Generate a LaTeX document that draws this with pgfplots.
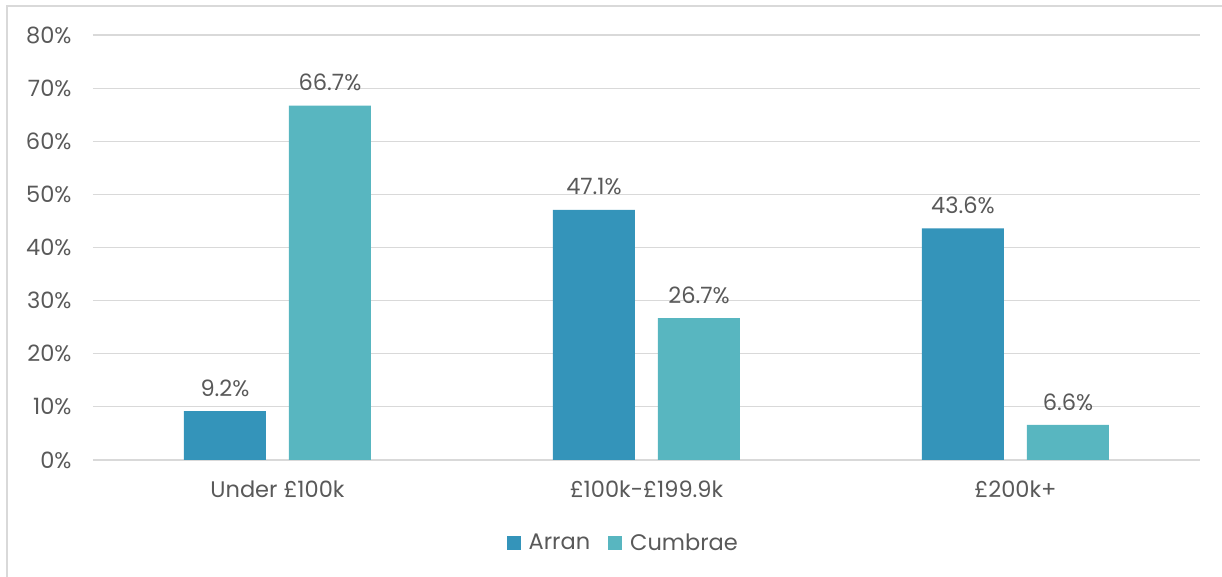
\documentclass[border=0pt]{standalone}
\usepackage{pgfplots}
\pgfplotsset{compat=1.18}
\usepackage{fontspec}
\setmainfont{Poppins}
\definecolor{arran}{HTML}{3494BA}
\definecolor{cumbrae}{HTML}{58B6C0}
\definecolor{txt}{HTML}{595959}
\definecolor{gridc}{HTML}{D9D9D9}
\begin{document}
\begin{tikzpicture}[x=1pt,y=1pt]
\path[use as bounding box] (-93,-117) rectangle (1129,460);
\draw[gridc, line width=1.5pt] (-86,-117) -- (-86,454) -- (1129,454);
\begin{axis}[
  at={(0,0)}, anchor=south west,
  scale only axis, width=1107pt, height=425pt,
  xmin=-0.5, xmax=2.5, ymin=0, ymax=80,
  ytick={0,10,...,80},
  /pgf/number format/assume math mode=true,
  yticklabel={\pgfmathprintnumber{\tick}\%},
  xtick={0,1,2},
  xticklabels={Under £100k, £100k-£199.9k, £200k+},
  axis line style={draw=none},
  major tick length=0pt,
  ymajorgrids, grid style={gridc, line width=1.2pt},
  ticklabel style={font=\fontsize{22.5}{26}\selectfont, text=txt},
  yticklabel style={xshift=-18pt},
  xticklabel style={yshift=-17pt},
  ybar=23pt, bar width=82pt,
  nodes near coords={\pgfmathprintnumber[fixed,precision=1,fixed zerofill]{\pgfplotspointmeta}\%},
  nodes near coords style={font=\fontsize{22.5}{26}\selectfont, text=txt, yshift=11pt},
  legend style={at={(0.479,-0.195)}, anchor=center, draw=none, fill=none,
    legend columns=2, font=\fontsize{22.5}{26}\selectfont, text=txt,
    /tikz/every even column/.append style={column sep=16pt}},
  legend image code/.code={\fill[#1] (0pt,-7pt) rectangle (14pt,7pt); \path (20pt,0pt);},
]
\addplot[draw=none, fill=arran] coordinates {(0,9.2) (1,47.1) (2,43.6)};
\addplot[draw=none, fill=cumbrae] coordinates {(0,66.7) (1,26.7) (2,6.6)};
\legend{Arran, Cumbrae}
\end{axis}
\end{tikzpicture}
\end{document}
